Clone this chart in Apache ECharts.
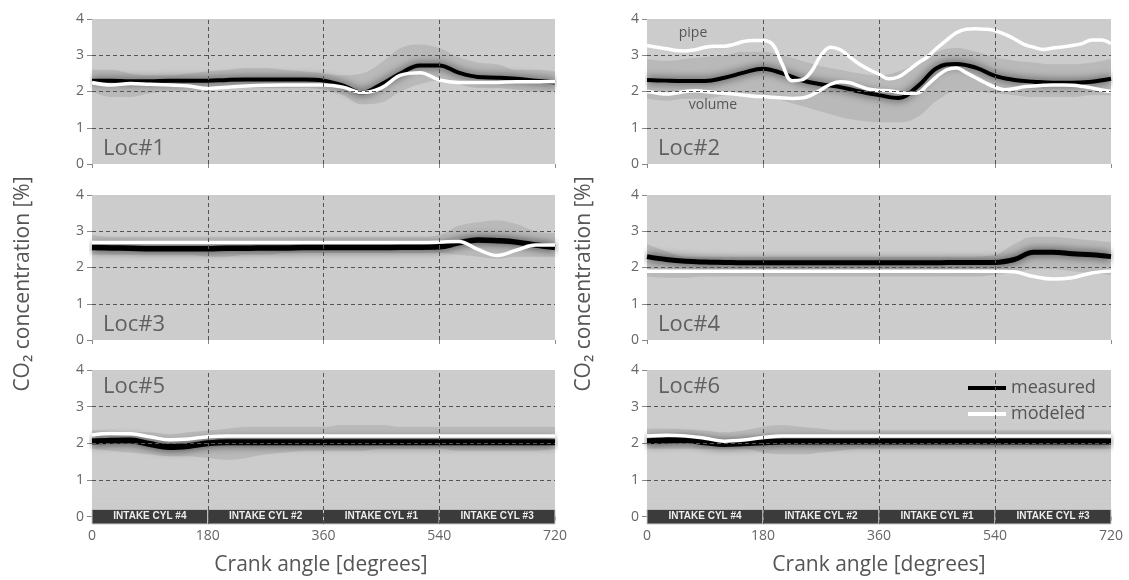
<!DOCTYPE html>
<html><head><meta charset="utf-8">
<script src="https://cdn.jsdelivr.net/npm/echarts@6/dist/echarts.min.js"></script>
<style>html,body{margin:0;padding:0;background:#fff}#c{width:1129px;height:580px}</style>
</head><body><div id="c"></div>
<script>
// ---------- DATA ----------
const angles = [0,30,60,90,120,150,180,210,240,270,300,330,360,390,420,450,480,510,540,570,600,630,660,690,720];
const angles15 = [0,15,30,45,60,75,90,105,120,135,150,165,180,195,210,225,240,255,270,285,300,315,330,345,360,375,390,405,420,435,450,465,480,495,510,525,540,555,570,585,600,615,630,645,660,675,690,705,720];

const loc1Measured = [2.3,2.3,2.28,2.28,2.3,2.3,2.3,2.32,2.33,2.33,2.33,2.33,2.3,2.17,1.97,2.2,2.5,2.72,2.72,2.52,2.4,2.38,2.35,2.3,2.25];
const loc1Lo       = [2.0,1.85,1.85,1.95,2.0,2.0,2.05,2.1,2.1,2.1,2.1,2.1,2.05,1.9,1.65,1.7,2.0,2.2,2.3,2.2,2.1,2.1,2.05,2.0,2.0];
const loc1Hi       = [2.6,2.6,2.5,2.45,2.45,2.5,2.55,2.6,2.65,2.65,2.6,2.55,2.5,2.45,2.5,2.8,3.2,3.3,3.2,2.95,2.8,2.75,2.6,2.6,2.55];
const loc1Modeled  = [2.25,2.18,2.22,2.2,2.18,2.15,2.08,2.12,2.15,2.17,2.18,2.18,2.18,2.12,1.97,2.1,2.45,2.52,2.32,2.25,2.25,2.25,2.27,2.27,2.27];

const loc2Measured = [2.32,2.3,2.29,2.29,2.38,2.52,2.63,2.5,2.31,2.2,2.12,2.0,1.9,1.82,2.14,2.65,2.76,2.66,2.43,2.32,2.27,2.24,2.24,2.27,2.35];
const loc2Lo       = [1.8,1.75,1.8,1.8,1.9,1.95,1.9,1.75,1.6,1.45,1.3,1.2,1.15,1.15,1.3,1.75,2.0,2.0,1.95,1.9,1.85,1.85,1.85,1.9,1.9];
const loc2Hi       = [2.9,2.85,2.9,2.95,3.0,3.1,3.1,3.0,2.85,2.7,2.6,2.5,2.45,2.55,2.8,3.1,3.2,3.1,2.95,2.85,2.8,2.75,2.75,2.8,2.9];
const loc2Pipe     = [3.27,3.22,3.18,3.13,3.12,3.15,3.22,3.25,3.25,3.3,3.38,3.41,3.41,3.3,2.75,2.3,2.32,2.55,3.0,3.22,3.15,2.95,2.75,2.6,2.48,2.35,2.4,2.58,2.78,2.95,3.2,3.42,3.62,3.72,3.73,3.72,3.68,3.58,3.45,3.3,3.22,3.16,3.2,3.23,3.27,3.32,3.42,3.42,3.32];
const loc2Volume   = [2.0,1.96,1.93,1.96,2.0,2.02,2.0,1.97,1.95,1.93,1.9,1.87,1.86,1.84,1.82,1.81,1.82,1.9,2.05,2.2,2.27,2.24,2.15,2.06,2.03,2.02,1.98,1.95,1.96,2.18,2.42,2.6,2.65,2.52,2.38,2.24,2.12,2.05,2.08,2.13,2.15,2.17,2.18,2.18,2.17,2.14,2.1,2.04,2.0];

const loc3Measured = [2.55,2.54,2.53,2.52,2.52,2.52,2.52,2.53,2.53,2.54,2.54,2.55,2.55,2.55,2.55,2.55,2.56,2.56,2.57,2.68,2.76,2.74,2.7,2.62,2.55];
const loc3Lo       = [2.35,2.35,2.35,2.35,2.35,2.35,2.3,2.3,2.35,2.35,2.4,2.4,2.4,2.4,2.4,2.4,2.4,2.4,2.4,2.35,2.3,2.25,2.3,2.3,2.3];
const loc3Hi       = [2.9,2.85,2.85,2.85,2.85,2.85,2.85,2.85,2.85,2.85,2.85,2.85,2.85,2.85,2.85,2.85,2.85,2.85,2.9,3.15,3.25,3.3,3.2,3.0,2.95];
const loc3Modeled  = [2.69,2.69,2.69,2.69,2.69,2.69,2.69,2.69,2.69,2.69,2.69,2.69,2.69,2.69,2.69,2.69,2.69,2.69,2.7,2.72,2.5,2.33,2.48,2.62,2.62];

const loc4Measured = [2.3,2.22,2.17,2.15,2.14,2.13,2.13,2.13,2.13,2.13,2.13,2.13,2.13,2.13,2.13,2.13,2.14,2.14,2.14,2.22,2.42,2.42,2.38,2.35,2.3];
const loc4Lo       = [1.75,1.72,1.72,1.75,1.75,1.75,1.75,1.75,1.75,1.75,1.75,1.75,1.75,1.75,1.75,1.75,1.75,1.75,1.8,1.85,1.95,1.95,1.9,1.85,1.8];
const loc4Hi       = [2.65,2.45,2.3,2.3,2.3,2.3,2.3,2.3,2.3,2.3,2.3,2.3,2.3,2.3,2.3,2.3,2.3,2.3,2.35,2.65,2.85,2.85,2.8,2.75,2.7];
const loc4Modeled  = [1.9,1.9,1.9,1.9,1.9,1.9,1.9,1.9,1.9,1.9,1.9,1.9,1.9,1.9,1.9,1.9,1.9,1.9,1.9,1.88,1.75,1.68,1.72,1.85,1.9];

const loc5Measured = [2.05,2.07,2.08,1.98,1.9,1.93,2.0,2.03,2.03,2.03,2.03,2.03,2.03,2.03,2.03,2.03,2.03,2.03,2.03,2.03,2.03,2.03,2.03,2.03,2.03];
const loc5Lo       = [1.85,1.8,1.75,1.7,1.65,1.65,1.6,1.55,1.6,1.7,1.75,1.8,1.8,1.8,1.8,1.85,1.85,1.85,1.85,1.8,1.8,1.8,1.8,1.8,1.85];
const loc5Hi       = [2.35,2.35,2.3,2.3,2.25,2.3,2.35,2.4,2.45,2.45,2.45,2.45,2.45,2.5,2.5,2.5,2.45,2.45,2.45,2.45,2.45,2.45,2.45,2.45,2.45];
const loc5Modeled  = [2.23,2.27,2.26,2.18,2.1,2.12,2.18,2.2,2.2,2.2,2.2,2.2,2.2,2.2,2.2,2.2,2.2,2.2,2.2,2.2,2.2,2.2,2.2,2.2,2.2];

const loc6Measured = [2.06,2.08,2.09,2.03,1.98,2.0,2.03,2.05,2.05,2.05,2.05,2.05,2.05,2.05,2.05,2.05,2.05,2.05,2.05,2.05,2.05,2.05,2.05,2.05,2.05];
const loc6Lo       = [1.85,1.85,1.85,1.85,1.85,1.85,1.75,1.7,1.7,1.75,1.8,1.85,1.85,1.85,1.85,1.85,1.85,1.85,1.85,1.85,1.85,1.85,1.85,1.85,1.85];
const loc6Hi       = [2.4,2.4,2.38,2.35,2.3,2.35,2.45,2.5,2.45,2.4,2.35,2.35,2.35,2.35,2.35,2.35,2.35,2.35,2.35,2.35,2.35,2.35,2.35,2.35,2.35];
const loc6Modeled  = [2.2,2.22,2.2,2.14,2.06,2.09,2.16,2.2,2.2,2.2,2.2,2.2,2.2,2.2,2.2,2.2,2.2,2.2,2.2,2.2,2.2,2.2,2.2,2.2,2.2];

const panelNames = ['Loc#1','Loc#2','Loc#3','Loc#4','Loc#5','Loc#6'];
const yTicks = [0,1,2,3,4];
const gridYValues = [1,2,3];
const gridXValues = [180,360,540];
const intakeStarts = [0,180,360,540];
const intakeLabels = ['INTAKE CYL #4','INTAKE CYL #2','INTAKE CYL #1','INTAKE CYL #3'];
const intakeBand = [-0.2, 0.2];

// ---------- LAYOUT / STYLE ----------
const FONT = '"Open Sans", "Noto Sans", sans-serif';
const BG = '#cccccc';
const cols = [{left:92, width:463}, {left:647, width:464}];
const rows = [{top:19, height:145, min:0}, {top:195, height:145, min:0}, {top:370, height:154, min:-0.2}];

const panels = [
  {m:loc1Measured, lo:loc1Lo, hi:loc1Hi, mod:[loc1Modeled], w:4},
  {m:loc2Measured, lo:loc2Lo, hi:loc2Hi, mod:[], extra:[loc2Pipe, loc2Volume], w:4},
  {m:loc3Measured, lo:loc3Lo, hi:loc3Hi, mod:[loc3Modeled], w:5.5},
  {m:loc4Measured, lo:loc4Lo, hi:loc4Hi, mod:[loc4Modeled], w:5},
  {m:loc5Measured, lo:loc5Lo, hi:loc5Hi, mod:[loc5Modeled], w:6},
  {m:loc6Measured, lo:loc6Lo, hi:loc6Hi, mod:[loc6Modeled], w:6}
];

const grid = [], xAxis = [], yAxis = [], series = [], graphic = [];
panels.forEach((p, i) => {
  const r = Math.floor(i / 2), c = i % 2;
  grid.push({left: cols[c].left, width: cols[c].width, top: rows[r].top, height: rows[r].height,
             show: true, backgroundColor: BG, borderWidth: 0});
  xAxis.push({type:'value', gridIndex:i, min:0, max:720, interval:180,
    axisLine:{show:false}, splitLine:{show:false},
    axisTick:{show:true, length:4, lineStyle:{color:'#888'}},
    axisLabel:{show: r === 2, color:'#666', fontSize:14, margin:5, fontFamily:FONT}});
  yAxis.push({type:'value', gridIndex:i, min:rows[r].min, max:4,
    axisLine:{show:false}, splitLine:{show:false},
    axisTick:{show:true, length:5, lineStyle:{color:'#888'}, customValues:yTicks},
    axisLabel:{color:'#666', fontSize:14, margin:8, fontFamily:FONT, customValues:yTicks}});

  const common = {xAxisIndex:i, yAxisIndex:i, type:'line', symbol:'none', smooth:0.4, silent:true};
  // spread band of measured traces: upper envelope shaded, lower envelope masks with background
  series.push(Object.assign({}, common, {name:'spreadHi'+i, z:1,
    data: angles.map((a,k)=>[a, p.hi[k]]), lineStyle:{opacity:0},
    areaStyle:{color:'rgba(0,0,0,0.13)', origin:0.5}}));
  series.push(Object.assign({}, common, {name:'spreadLo'+i, z:1,
    data: angles.map((a,k)=>[a, p.lo[k]]), lineStyle:{opacity:0},
    areaStyle:{color:BG, opacity:1, origin:0.5}}));
  // dashed grid lines
  series.push(Object.assign({}, common, {name:'grid'+i, z:2, data:[],
    markLine:{silent:true, symbol:['none','none'], label:{show:false},
      lineStyle:{color:'#555', width:1, type:[4,3]},
      data: gridYValues.map(v=>({yAxis:v})).concat(gridXValues.map(v=>({xAxis:v})))}}));
  // measured
  series.push(Object.assign({}, common, {name:'measured', z:3,
    data: angles.map((a,k)=>[a, p.m[k]]),
    lineStyle:{color:'#000', width:p.w, shadowBlur:9, shadowColor:'rgba(0,0,0,0.8)'}}));
  // modeled
  p.mod.forEach(arr => series.push(Object.assign({}, common, {name:'modeled', z:4,
    data: angles.map((a,k)=>[a, arr[k]]), lineStyle:{color:'#fff', width:3.5}})));
  (p.extra||[]).forEach((arr, j) => series.push(Object.assign({}, common, {name: j===0?'pipe':'volume', z:4,
    data: angles15.map((a,k)=>[a, arr[k]]), lineStyle:{color:'#fff', width:3.5}})));
  // intake bars on bottom panels
  if (r === 2) {
    series.push(Object.assign({}, common, {name:'intake'+i, z:6, data:[],
      markArea:{silent:true,
        itemStyle:{color:'#3b3b3b', borderColor:BG, borderWidth:1},
        label:{show:true, position:'inside', color:'#eeeeee', fontSize:10, fontWeight:'bold', fontFamily:'"Liberation Sans", sans-serif'},
        data: intakeStarts.map((s,k)=>[{xAxis:s, yAxis:intakeBand[0], name:intakeLabels[k]}, {xAxis:s+180, yAxis:intakeBand[1]}])}}));
  }
  // panel name
  const tx = cols[c].left + 11;
  const ty = r === 2 ? 387 : rows[r].top + rows[r].height - 15;
  graphic.push({type:'text', x:tx, y:ty, z:10, style:{text:panelNames[i], fill:'#606060',
    font:'22px ' + FONT, align:'left', verticalAlign:'middle'}});
});

// axis titles
[23, 584].forEach(x => graphic.push({type:'text', x:x, y:284, rotation:Math.PI/2, style:{
  text:'CO₂ concentration [%]', fill:'#555', font:'21px ' + FONT, align:'center', verticalAlign:'middle'}}));
[321, 879].forEach(x => graphic.push({type:'text', x:x, y:565, style:{
  text:'Crank angle [degrees]', fill:'#555', font:'21px ' + FONT, align:'center', verticalAlign:'middle'}}));
// pipe / volume annotations
graphic.push({type:'text', x:693, y:33, z:10, style:{text:'pipe', fill:'#555', font:'14px ' + FONT, align:'center', verticalAlign:'middle'}});
graphic.push({type:'text', x:713, y:105, z:10, style:{text:'volume', fill:'#555', font:'14px ' + FONT, align:'center', verticalAlign:'middle'}});

const chart = echarts.init(document.getElementById('c'), null, {renderer:'canvas'});
chart.setOption({
  animation:false,
  backgroundColor:'#ffffff',
  grid, xAxis, yAxis, series, graphic,
  legend:{orient:'vertical', left:963, top:374, itemWidth:38, itemHeight:4, itemGap:8,
    textStyle:{color:'#555', fontSize:18, fontFamily:FONT},
    data:[{name:'measured', icon:'rect', itemStyle:{color:'#000'}},
          {name:'modeled', icon:'rect', itemStyle:{color:'#fff'}}]}
});
</script></body></html>
